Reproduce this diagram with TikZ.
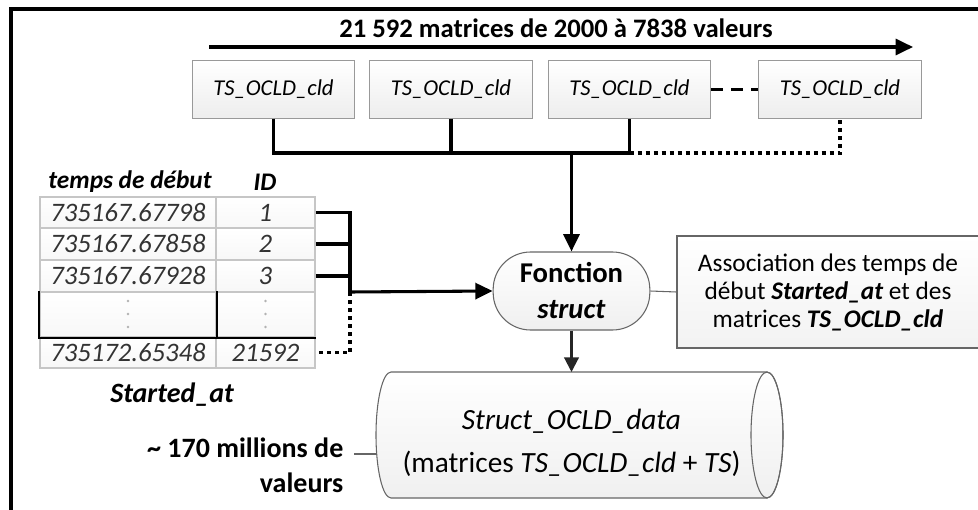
\documentclass[tikz,border=0pt]{standalone}
\usepackage{fontspec}
\setmainfont{Carlito}
\usetikzlibrary{shapes.geometric,arrows.meta}
\newcommand\myfs[2]{\fontsize{#1}{#2}\selectfont}
\begin{document}
\begin{tikzpicture}[x=0.75pt,y=-0.75pt,
  conn/.style={line width=2.3pt},
  dotconn/.style={line width=2.3pt,dash pattern=on 3pt off 3pt},
  dashconn/.style={line width=2.3pt,dash pattern=on 9pt off 6pt},
  thinconn/.style={draw=gray!80!black,line width=0.8pt},
  tsbox/.style={draw=gray!80,line width=0.8pt,top color=white,bottom color=gray!14,
    minimum width=122pt,minimum height=43pt,inner sep=0pt,font=\myfs{17}{20}\itshape},
  cell/.style={draw=gray!45,line width=1.2pt,top color=white,bottom color=gray!6,
    inner sep=0pt,font=\myfs{20}{22}\itshape,text=black!80},
  hdr/.style={font=\myfs{19}{22}\bfseries\itshape},
  bigarrow/.style={-{Triangle[length=13pt,width=12pt]}},
  midarrow/.style={-{Triangle[length=11pt,width=11pt]}}
]
\useasboundingbox (0,0) rectangle (978,510);
% frame
\draw[line width=2.3pt] (11,530) -- (11,9) -- (1000,9);

% title and arrow
\node[font=\myfs{20}{24}\bfseries] (title) at (556,28) {21 592 matrices de 2000 à 7838 valeurs};
\coordinate (as) at (209,47);
\coordinate (ae) at (913,47);
\draw[conn,bigarrow] (as) -- (ae);

% boxes
\node[tsbox] (b1) at (273.5,89.5) {TS\_OCLD\_cld};
\node[tsbox] (b2) at (451,89.5) {TS\_OCLD\_cld};
\node[tsbox] (b3) at (629.5,89.5) {TS\_OCLD\_cld};
\node[tsbox] (b4) at (840,89.5) {TS\_OCLD\_cld};
\draw[dashconn] (b3.east) -- (b4.west);

% function
\node[draw=gray!80!black,line width=0.8pt,top color=white,bottom color=gray!12,
  rounded corners=28pt,minimum width=117.5pt,minimum height=58.5pt,inner sep=0pt,
  align=center,font=\myfs{21.5}{27}\bfseries] (fn) at (571.5,291) {Fonction\\\textit{struct}};

\coordinate (hb) at (571.5,153);
\draw[conn] (b1.south) -- (b1.south |- hb) -- (b3.south |- hb) -- (b3.south);
\draw[conn] (b2.south) -- (b2.south |- hb);
\draw[dotconn] (b3.south |- hb) -- (b4.south |- hb) -- (b4.south);
\draw[conn,bigarrow] (hb) -- (fn.north);

% table
\node[hdr] (h1) at (130,182) {temps de début};
\node[hdr] (h2) at (265,182) {ID};
\node[cell,minimum width=132pt,minimum height=23.25pt] (r1a) at (128,212.5) {735167.67798};
\node[cell,minimum width=74.25pt,minimum height=23.25pt] (r1b) at (265.5,212.5) {1};
\node[cell,minimum width=132pt,minimum height=24pt] (r2a) at (128,244) {735167.67858};
\node[cell,minimum width=74.25pt,minimum height=24pt] (r2b) at (265.5,244) {2};
\node[cell,minimum width=132pt,minimum height=24pt] (r3a) at (128,276) {735167.67928};
\node[cell,minimum width=74.25pt,minimum height=24pt] (r3b) at (265.5,276) {3};
\node[cell,minimum width=132pt,minimum height=33.75pt] (r4a) at (128,314.5) {};
\node[cell,minimum width=74.25pt,minimum height=33.75pt] (r4b) at (265.5,314.5) {};
\node[cell,minimum width=132pt,minimum height=23.25pt] (r5a) at (128,352.5) {735172.65348};
\node[cell,minimum width=74.25pt,minimum height=23.25pt] (r5b) at (265.5,352.5) {21592};
\draw[line width=1.6pt] (r4a.north west) -- (r4a.south west) -- (r4b.south east);
\draw[line width=1.6pt] (r4a.north east) -- (r4a.south east);
\foreach \yy in {301,314,327}{
  \fill[gray!60] (128,\yy) circle (1.3);
  \fill[gray!60] (265.5,\yy) circle (1.3);
}
\node[font=\myfs{21}{25}\bfseries\itshape] (sa) at (172,395) {Started\_at};

\coordinate (jt) at (350,292);
\draw[conn] (r1b.east) -- (r1b.east -| jt) -- (jt);
\draw[conn] (r2b.east) -- (r2b.east -| jt);
\draw[conn] (r3b.east) -- (r3b.east -| jt);
\draw[conn,bigarrow] (jt) -- (fn.west);
\draw[dotconn] (jt) -- (jt |- r5b.east) -- (r5b.east);

% annotation
\node[draw=gray!80!black,line width=0.8pt,top color=white,bottom color=gray!10,
  minimum width=226.5pt,minimum height=84pt,align=center,inner sep=0pt,
  font=\myfs{19}{21}] (ann) at (828,292)
  {Association des temps de\\début \textbf{\textit{Started\_at}} et des\\matrices \textbf{\textit{TS\_OCLD\_cld}}};
\draw[thinconn] (fn.east) -- (ann.west);

% cylinder
\draw[draw=gray!80!black,line width=0.8pt,top color=white,bottom color=gray!12]
  (391,372) -- (767,372) arc[start angle=-90,end angle=90,x radius=16,y radius=63]
  -- (391,498) arc[start angle=90,end angle=270,x radius=15,y radius=63] -- cycle;
\draw[draw=gray!80!black,line width=0.8pt] (767,435) ellipse [x radius=16,y radius=63];
\coordinate (cyltop) at (571.5,372);
\coordinate (cylw) at (377,454);
\node[align=center,inner sep=0pt,font=\myfs{22}{32}] (cyl) at (571.5,443)
  {\textit{Struct\_OCLD\_data}\\(matrices \textit{TS\_OCLD\_cld} + \textit{TS})};
\draw[draw=gray!30!black,line width=1.6pt,midarrow] (fn.south) -- (cyltop);

\node[align=right,anchor=north east,font=\myfs{21}{26}\bfseries] (mil) at (348,433)
  {\textasciitilde{} 170 millions de\\valeurs};
\coordinate (mc) at (354,454);
\draw[thinconn] (mc) -- (cylw);
\end{tikzpicture}
\end{document}
